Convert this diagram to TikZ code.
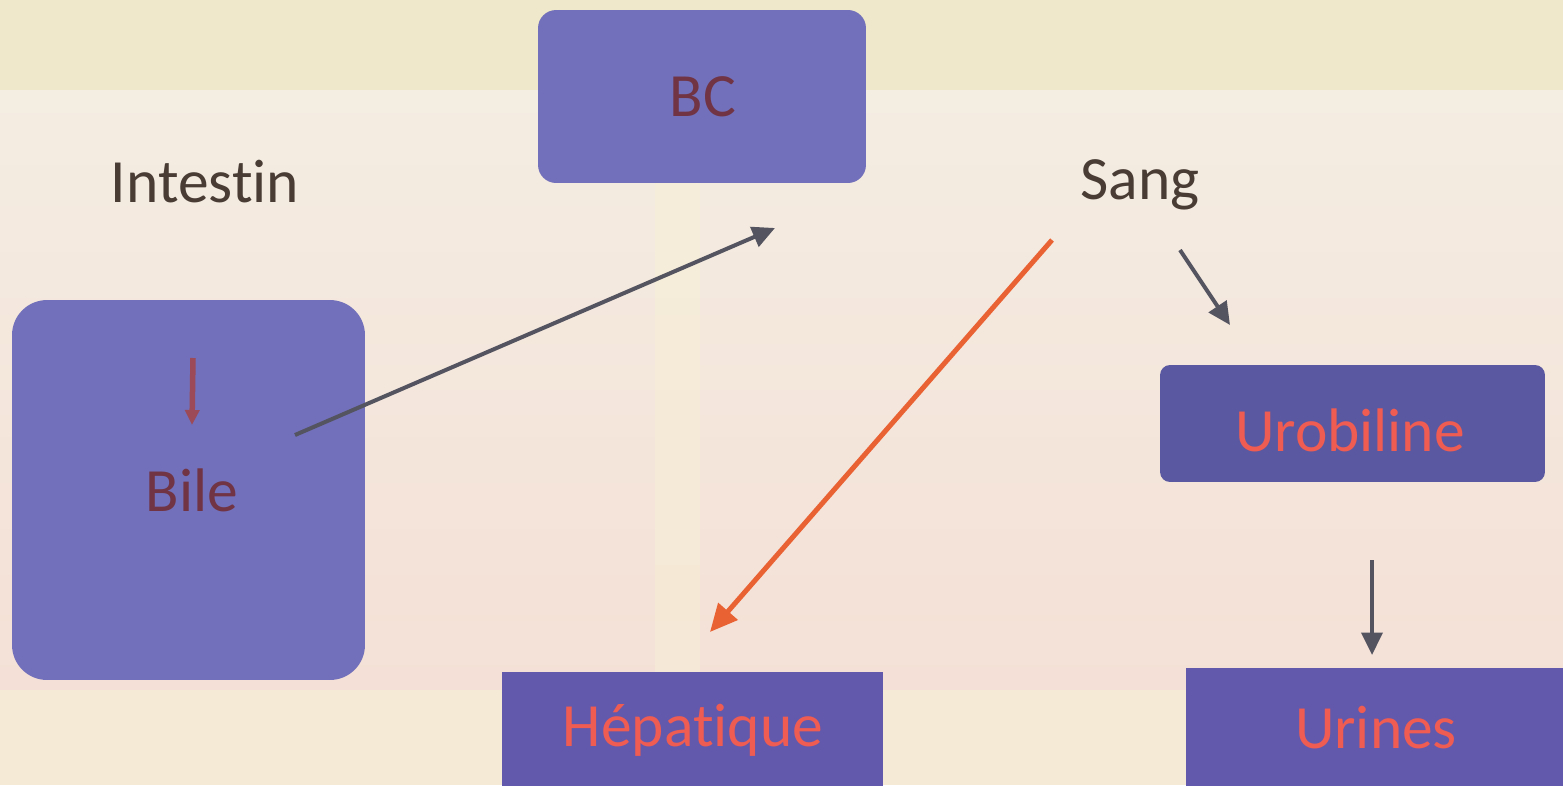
\documentclass[tikz,border=0pt]{standalone}
\usepackage{fontspec}
\setmainfont{Carlito}[Ligatures=NoCommon]
\usetikzlibrary{arrows.meta}
\definecolor{bgtop}{RGB}{240,232,202}
\definecolor{bgmidA}{RGB}{244,237,226}
\definecolor{bgmidB}{RGB}{244,224,214}
\definecolor{bgbot}{RGB}{244,234,214}
\definecolor{stripe}{RGB}{246,238,214}
\definecolor{boxA}{RGB}{114,112,186}
\definecolor{boxB}{RGB}{90,88,160}
\definecolor{boxC}{RGB}{98,88,172}
\definecolor{darktext}{RGB}{112,52,68}
\definecolor{redtext}{RGB}{238,92,82}
\definecolor{labeltext}{RGB}{72,60,52}
\definecolor{arrowgray}{RGB}{84,84,96}
\definecolor{arroworange}{RGB}{232,98,52}
\definecolor{innerarrow}{RGB}{156,74,88}
\tikzset{
  txt/.style={font=\fontsize{35pt}{42pt}\selectfont, inner sep=0pt},
  roundbox/.style={fill=boxA, draw=none, inner sep=0pt},
  flatbox/.style={fill=boxC, draw=none, inner sep=0pt},
  grayarrow/.style={draw=arrowgray, line width=0.08cm, -{Triangle[length=0.45cm,width=0.42cm]}},
  orangearrow/.style={draw=arroworange, line width=0.1cm, -{Triangle[length=0.55cm,width=0.5cm]}},
}
\begin{document}
\begin{tikzpicture}[x=0.02cm,y=-0.02cm]
\useasboundingbox (0,0) rectangle (1563,785);
\clip (0,0) rectangle (1563,785);
% background
\fill[bgtop] (0,0) rectangle (1563,90);
\shade[top color=bgmidA, bottom color=bgmidB] (0,90) rectangle (1563,690);
\fill[bgbot] (0,690) rectangle (1563,785);
\fill[stripe, opacity=0.6] (655,90) rectangle (700,690);
% boxes
\node[roundbox, rounded corners=0.36cm, minimum width=6.56cm, minimum height=3.46cm] (bcbox) at (702,96.5) {};
\node[txt, text=darktext] (bc) at (703,97) {BC};
\node[roundbox, rounded corners=0.7cm, minimum width=7.06cm, minimum height=7.6cm] (bilebox) at (188.5,490) {};
\node[txt, text=darktext] (bile) at (192,490) {Bile};
\node[roundbox, fill=boxB, rounded corners=0.2cm, minimum width=7.7cm, minimum height=2.34cm] (urobox) at (1352.5,423.5) {};
\node[txt, text=redtext] (uro) at (1350,430) {Urobiline};
\node[flatbox, minimum width=7.8cm, minimum height=2.44cm] (urinesbox) at (1381,729) {};
\node[txt, text=redtext] (urines) at (1376,728) {Urines};
\node[flatbox, minimum width=7.62cm, minimum height=2.36cm] (hepbox) at (692.5,731) {};
\node[txt, text=redtext] (hep) at (693,730) {Hépatique};
% labels
\node[txt, text=labeltext] (intestin) at (205,182) {Intestin};
\node[txt, text=labeltext] (sang) at (1140,185) {Sang};
% arrows
\coordinate (bilein) at (193,358);
\draw[draw=innerarrow, line width=0.11cm, -{Triangle[length=0.3cm,width=0.28cm]}] (bilein) -- (bile.north |- 0,425);
\coordinate (a1s) at (295,435);
\coordinate (a1e) at (775,228);
\draw[grayarrow] (a1s) -- (a1e);
\coordinate (a2s) at (1052,240);
\coordinate (a2e) at (710,632);
\draw[orangearrow] (a2s) -- (a2e);
\coordinate (a3s) at (1180,250);
\coordinate (a3e) at (1230,325);
\draw[grayarrow] (a3s) -- (a3e);
\coordinate (a4s) at (1372,560);
\coordinate (a4e) at (1372,655);
\draw[grayarrow] (a4s) -- (a4e);
\end{tikzpicture}
\end{document}
